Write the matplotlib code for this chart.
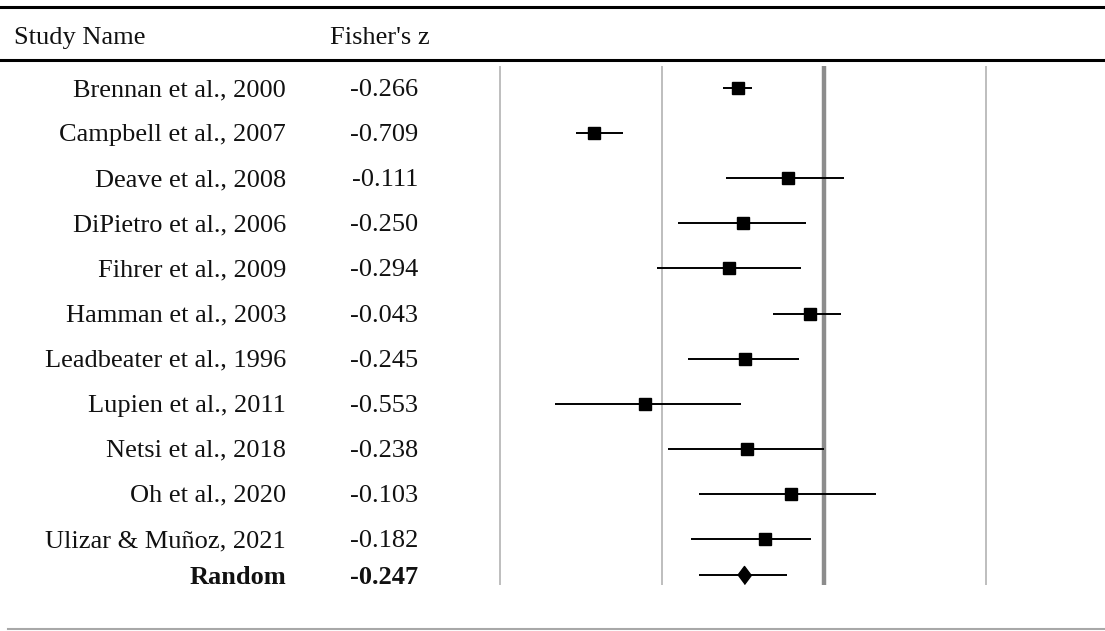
import numpy as np
import matplotlib
matplotlib.use("Agg")
import matplotlib.pyplot as plt
from matplotlib.transforms import blended_transform_factory

# data
studies = ["Brennan et al., 2000", "Campbell et al., 2007", "Deave et al., 2008",
           "DiPietro et al., 2006", "Fihrer et al., 2009", "Hamman et al., 2003",
           "Leadbeater et al., 1996", "Lupien et al., 2011", "Netsi et al., 2018",
           "Oh et al., 2020", "Ulizar & Muñoz, 2021"]
z = [-0.266, -0.709, -0.111, -0.250, -0.294, -0.043, -0.245, -0.553, -0.238, -0.103, -0.182]
ci_low = [-0.312, -0.766, -0.302, -0.451, -0.515, -0.158, -0.421, -0.830, -0.481, -0.387, -0.411]
ci_high = [-0.222, -0.621, 0.062, -0.056, -0.072, 0.054, -0.078, -0.256, 0.000, 0.162, -0.039]
pooled_label = "Random"
pooled_z = -0.247
pooled_low = -0.387
pooled_high = -0.114
ref_lines = [-1.0, -0.5, 0.5]

W, H = 1105, 631
fig = plt.figure(figsize=(W / 100, H / 100), dpi=100)
ax = fig.add_axes([0, 0, 1, 1])
ax.axis("off")

# pixel layout -> data
x0_px, px_per_unit = 824, 324
row0_px, row_step = 88, 45.1
ax.set_xlim(-x0_px / px_per_unit, (W - x0_px) / px_per_unit)
ax.set_ylim((H - row0_px) / row_step, -row0_px / row_step)

def py(p):
    return (p - row0_px) / row_step

rows = np.arange(len(studies))
pooled_row = py(575)
txt_shift = 2 / row_step  # serif text sits a touch high with va=center

# reference lines
ax.vlines(ref_lines, py(66), py(585), color="#b9b9b9", lw=1.3)
ax.vlines(0, py(66), py(585), color="#8c8c8c", lw=3.2)

# study CIs + squares
ax.hlines(rows, ci_low, ci_high, color="black", lw=1.4)
ax.plot(z, rows, "s", color="black", ms=8.5)

# pooled
ax.hlines(pooled_row, pooled_low, pooled_high, color="black", lw=1.4)
diamond = [(-0.75, 0), (0, 1), (0.75, 0), (0, -1)]
ax.plot([pooled_z], [pooled_row], marker=diamond, color="black", ms=13, ls="none")

# table rules
ax.axhline(py(7), color="black", lw=2.2)
ax.axhline(py(60), color="black", lw=2.2)
ax.axhline(py(629), xmin=8 / W, color="#a8a8a8", lw=1.5)

tr = blended_transform_factory(ax.transAxes, ax.transData)
font = dict(family="Liberation Serif", fontsize=19, color="#111111")

ax.text(14 / W, py(38), "Study Name", ha="left", va="center", transform=tr, **font)
ax.text(330 / W, py(38), "Fisher's z", ha="left", va="center", transform=tr, **font)

for r, name, v in zip(rows, studies, z):
    ax.text(286 / W, r + txt_shift, name, ha="right", va="center", transform=tr, **font)
    ax.text(418 / W, r + txt_shift, "%.3f" % v, ha="right", va="center", transform=tr, **font)

ax.text(286 / W, pooled_row + txt_shift, pooled_label, ha="right", va="center",
        fontweight="bold", transform=tr, **font)
ax.text(418 / W, pooled_row + txt_shift, "%.3f" % pooled_z, ha="right", va="center",
        fontweight="bold", transform=tr, **font)

fig.savefig("out.png", dpi=100)
